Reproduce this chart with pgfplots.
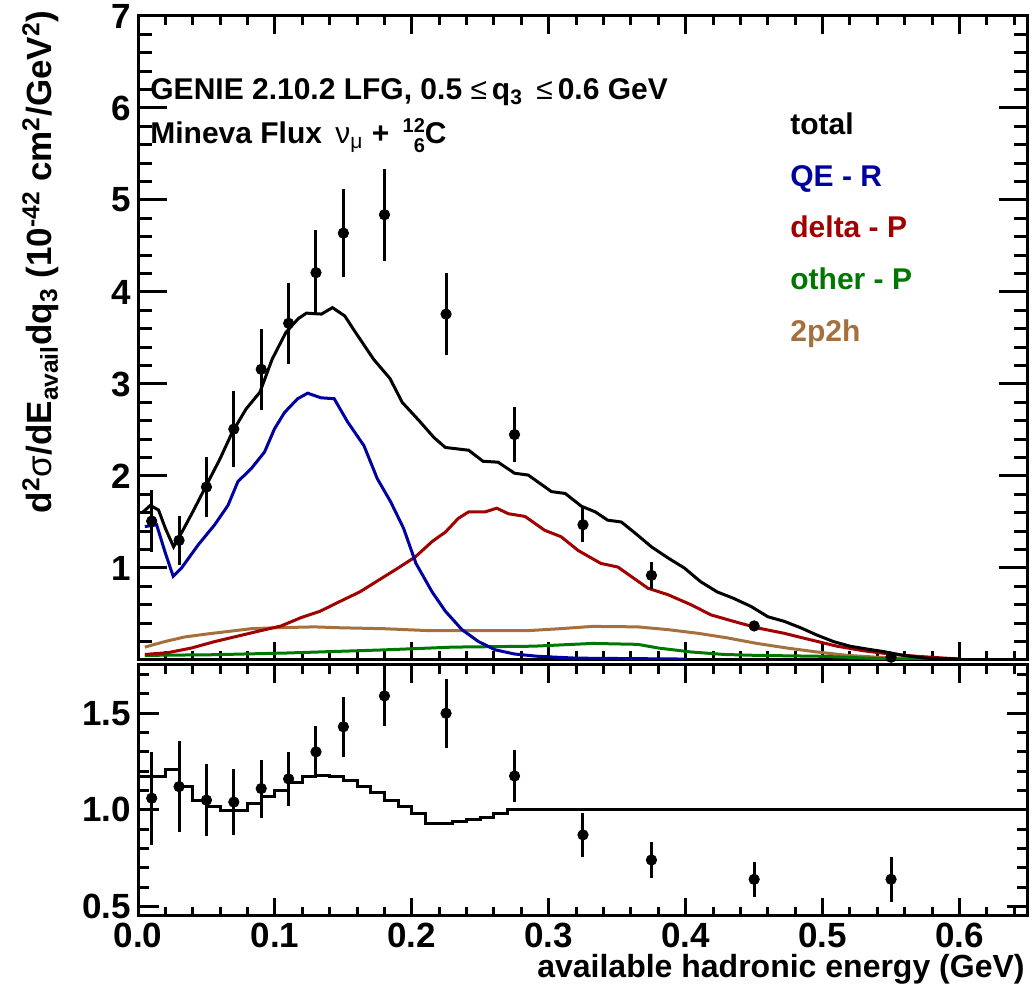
\documentclass[border=0pt]{standalone}
\usepackage{pgfplots}
\usepackage{pgfplotstable}
\pgfplotsset{compat=1.18}
\usepackage{fontspec}
\setmainfont{Liberation Sans}
\definecolor{qeblue}{RGB}{0,0,160}
\definecolor{delred}{RGB}{160,0,0}
\definecolor{othgreen}{RGB}{0,120,0}
\definecolor{twobrown}{RGB}{164,112,62}

\pgfplotstableread{
x y e
0.01 1.51 0.34
0.03 1.30 0.27
0.05 1.88 0.33
0.07 2.51 0.41
0.09 3.16 0.44
0.11 3.66 0.44
0.13 4.21 0.46
0.15 4.64 0.48
0.18 4.84 0.50
0.225 3.76 0.45
0.275 2.45 0.30
0.325 1.47 0.19
0.375 0.92 0.15
0.45 0.37 0.05
0.55 0.03 0.02
}\datatop

\pgfplotstableread{
x y e
0.01 1.06 0.24
0.03 1.12 0.235
0.05 1.05 0.185
0.07 1.04 0.17
0.09 1.11 0.15
0.11 1.16 0.14
0.13 1.30 0.135
0.15 1.43 0.155
0.18 1.59 0.155
0.225 1.50 0.18
0.275 1.175 0.135
0.325 0.87 0.115
0.375 0.74 0.095
0.45 0.64 0.09
0.55 0.64 0.115
}\dataratio

\begin{document}
\begin{tikzpicture}[font=\bfseries]
\path[use as bounding box] (0,0) rectangle (517.5pt,492pt);

\pgfplotsset{
  myaxis/.style={
    width=445pt, scale only axis,
    xmin=0, xmax=0.65,
    xtick={0,0.1,0.2,0.3,0.4,0.5,0.6},
    minor xtick={0.02,0.04,0.06,0.08,0.12,0.14,0.16,0.18,0.22,0.24,0.26,0.28,0.32,0.34,0.36,0.38,0.42,0.44,0.46,0.48,0.52,0.54,0.56,0.58,0.62,0.64},
    tick align=inside,
    xtick pos=both, ytick pos=both,
    axis line style={line width=1.5pt},
    every tick/.append style={line width=1.5pt, black},
    every x tick/.append style={/pgfplots/major tick length=9pt,/pgfplots/minor tick length=4.5pt},
    tick label style={font=\fontsize{17.5}{17.5}\selectfont\bfseries},
    xticklabel style={yshift=0pt},
  }
}

% ---------------- top panel ----------------
\begin{axis}[myaxis,
  at={(69pt,162pt)}, anchor=south west, height=322pt,
  ymin=0, ymax=7,
  ytick={1,2,3,4,5,6,7},
  yticklabels={1,2,3,4,5,6,7},
  minor ytick={0.2,0.4,0.6,0.8,1.2,1.4,1.6,1.8,2.2,2.4,2.6,2.8,3.2,3.4,3.6,3.8,4.2,4.4,4.6,4.8,5.2,5.4,5.6,5.8,6.2,6.4,6.6,6.8},
  xticklabels={},
  major tick length=14.5pt, minor tick length=7pt,
]
\addplot[twobrown, line width=1.5pt] coordinates {
(0.005,0.14) (0.0196,0.20) (0.034,0.25) (0.049,0.28) (0.0657,0.31) (0.0827,0.34) (0.0996,0.35) (0.1287,0.36) (0.148,0.35) (0.1796,0.34) (0.211,0.32) (0.240,0.32) (0.286,0.32) (0.308,0.34) (0.332,0.365) (0.365,0.36) (0.387,0.33) (0.409,0.29) (0.4305,0.24) (0.452,0.18) (0.474,0.13) (0.496,0.087) (0.518,0.05) (0.540,0.03) (0.57,0.01) (0.60,0.005)};
\addplot[othgreen, line width=1.5pt] coordinates {
(0.005,0.05) (0.054,0.057) (0.109,0.076) (0.180,0.11) (0.230,0.14) (0.289,0.15) (0.332,0.18) (0.365,0.17) (0.380,0.13) (0.404,0.087) (0.428,0.06) (0.452,0.05) (0.50,0.04) (0.55,0.01) (0.60,0.005)};
\addplot[delred, line width=1.5pt] coordinates {
(0.005,0.06) (0.022,0.08) (0.039,0.13) (0.056,0.20) (0.073,0.26) (0.090,0.32) (0.1045,0.37) (0.119,0.46) (0.133,0.53) (0.148,0.64) (0.162,0.74) (0.176,0.87) (0.190,1.00) (0.2025,1.12) (0.215,1.29) (0.2245,1.39) (0.234,1.54) (0.2415,1.61) (0.2536,1.61) (0.262,1.65) (0.2705,1.59) (0.2827,1.56) (0.297,1.41) (0.309,1.34) (0.3215,1.19) (0.338,1.05) (0.3505,1.01) (0.3724,0.78) (0.387,0.71) (0.404,0.60) (0.4185,0.49) (0.435,0.42) (0.452,0.35) (0.472,0.29) (0.491,0.22) (0.5105,0.15) (0.530,0.10) (0.549,0.065) (0.569,0.04) (0.60,0.01)};
\addplot[qeblue, line width=1.5pt] coordinates {
(0.005,1.45) (0.0136,1.47) (0.0196,1.18) (0.0257,0.91) (0.0318,1.00) (0.0439,1.25) (0.056,1.47) (0.0657,1.68) (0.073,1.94) (0.0827,2.08) (0.0924,2.26) (0.0996,2.51) (0.107,2.69) (0.1166,2.84) (0.1239,2.90) (0.1336,2.85) (0.1433,2.84) (0.153,2.59) (0.165,2.33) (0.1748,1.97) (0.1845,1.72) (0.194,1.43) (0.203,1.05) (0.2148,0.74) (0.2245,0.53) (0.2366,0.33) (0.2487,0.20) (0.261,0.11) (0.275,0.065) (0.292,0.04) (0.32,0.02) (0.40,0.01)};
\addplot[black, line width=1.5pt] coordinates {
(0.003,1.60) (0.009,1.68) (0.015,1.63) (0.020,1.43) (0.026,1.23) (0.031,1.36) (0.040,1.61) (0.050,1.90) (0.060,2.19) (0.069,2.48) (0.079,2.73) (0.089,2.91) (0.098,3.27) (0.108,3.56) (0.117,3.71) (0.123,3.77) (0.134,3.76) (0.142,3.83) (0.151,3.74) (0.158,3.58) (0.172,3.27) (0.184,3.06) (0.193,2.80) (0.206,2.59) (0.216,2.42) (0.2245,2.31) (0.2415,2.28) (0.252,2.16) (0.263,2.15) (0.275,2.03) (0.285,2.01) (0.302,1.83) (0.312,1.81) (0.324,1.67) (0.334,1.61) (0.343,1.52) (0.353,1.50) (0.363,1.38) (0.375,1.23) (0.387,1.11) (0.399,1.00) (0.411,0.85) (0.423,0.74) (0.435,0.67) (0.448,0.58) (0.460,0.47) (0.472,0.42) (0.484,0.35) (0.496,0.27) (0.508,0.20) (0.520,0.15) (0.532,0.12) (0.545,0.09) (0.559,0.05) (0.575,0.02) (0.600,0.01)};
\addplot[black, only marks, mark=*, mark size=2.6pt,
  error bars/.cd, y dir=both, y explicit, error mark=none,
  error bar style={line width=1.5pt}]
  table[x=x, y=y, y error=e] {\datatop};
\end{axis}

% ---------------- bottom panel ----------------
\begin{axis}[myaxis,
  at={(69pt,34pt)}, anchor=south west, height=125.5pt,
  ymin=0.45, ymax=1.75,
  ytick={0.5,1.0,1.5},
  yticklabels={0.5,1.0,1.5},
  minor ytick={0.6,0.7,0.8,0.9,1.1,1.2,1.3,1.4,1.6,1.7},
  xticklabels={0.0,0.1,0.2,0.3,0.4,0.5,0.6},
  major tick length=10.5pt, minor tick length=5.5pt,
]
\addplot[black, line width=1.5pt, const plot] coordinates {
(0,1.17) (0.02,1.21) (0.03,1.12) (0.04,1.05) (0.05,1.015) (0.06,0.995) (0.08,1.035) (0.09,1.07) (0.10,1.10) (0.11,1.14) (0.12,1.17) (0.13,1.18) (0.14,1.17) (0.15,1.15) (0.16,1.12) (0.17,1.09) (0.18,1.05) (0.19,1.015) (0.20,0.98) (0.21,0.93) (0.23,0.94) (0.24,0.95) (0.25,0.96) (0.26,0.98) (0.27,1.0) (0.65,1.0)};
\addplot[black, only marks, mark=*, mark size=2.6pt,
  error bars/.cd, y dir=both, y explicit, error mark=none,
  error bar style={line width=1.5pt}]
  table[x=x, y=y, y error=e] {\dataratio};
\end{axis}

% ---------------- texts ----------------
\node[anchor=base west, inner sep=0pt, font=\fontsize{15}{15}\selectfont\bfseries] at (75pt,442pt)
  {GENIE 2.10.2 LFG, 0.5 {\mdseries ≤}\,q\textsubscript{3}\, {\mdseries ≤}\,0.6 GeV};
\node[anchor=base west, inner sep=0pt, font=\fontsize{15}{15}\selectfont\bfseries] at (75pt,420pt)
  {Mineva Flux\, {\mdseries ν\textsubscript{μ}} + \,\raisebox{0.75ex}{\fontsize{10}{10}\selectfont 12}\llap{\raisebox{-0.55ex}{\fontsize{10}{10}\selectfont 6}}C};

\begin{scope}[every node/.style={anchor=base west, inner sep=0pt, font=\fontsize{15}{15}\selectfont\bfseries}]
\node[black] at (395pt,424.5pt) {total};
\node[qeblue] at (395pt,398.5pt) {QE - R};
\node[delred] at (395pt,373pt) {delta - P};
\node[othgreen] at (395pt,347pt) {other - P};
\node[twobrown] at (395pt,321pt) {2p2h};
\end{scope}

\node[anchor=base east, rotate=90, inner sep=0pt, font=\fontsize{17.5}{17.5}\selectfont\bfseries] at (26pt,487pt)
  {d\textsuperscript{2}{\mdseries σ}/dE\textsubscript{avail}dq\textsubscript{3} (10\textsuperscript{-42} cm\textsuperscript{2}/GeV\textsuperscript{2})};

\node[anchor=base east, inner sep=0pt, font=\fontsize{16}{16}\selectfont\bfseries] at (512.5pt,3.2pt)
  {available hadronic energy (GeV)};
\end{tikzpicture}
\end{document}
